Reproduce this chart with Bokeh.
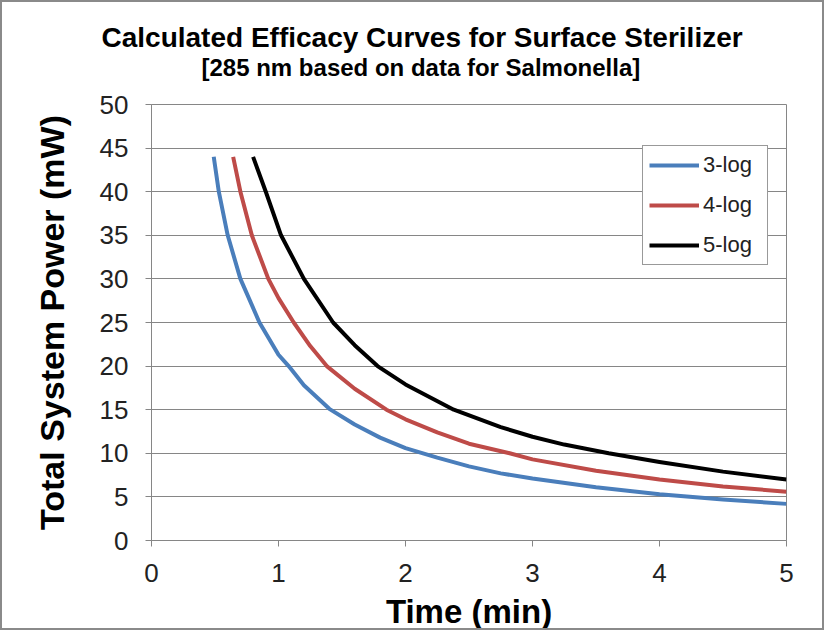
from bokeh.plotting import figure
from bokeh.models import Title, Legend, LegendItem, SingleIntervalTicker
from bokeh.embed import file_html
from bokeh.resources import INLINE

# ---- data ----
t_3log = [0.49, 0.53, 0.6, 0.7, 0.85, 1.0, 1.08, 1.2, 1.4, 1.6, 1.8, 2.0, 2.25, 2.5,
          2.75, 3.0, 3.5, 4.0, 4.5, 5.0]
p_3log = [44.0, 40.0, 35.0, 30.0, 25.0, 21.3, 20.0, 17.8, 15.1, 13.3, 11.8, 10.6, 9.5, 8.5,
          7.7, 7.1, 6.1, 5.3, 4.7, 4.2]

t_4log = [0.643, 0.7, 0.79, 0.92, 1.0, 1.12, 1.25, 1.38, 1.6, 1.85, 2.0, 2.25, 2.5, 2.82,
          3.0, 3.5, 4.0, 4.5, 5.0]
p_4log = [44.0, 40.0, 35.0, 30.0, 27.8, 25.0, 22.3, 20.0, 17.4, 15.0, 13.9, 12.4, 11.1, 10.0,
          9.3, 8.0, 7.0, 6.2, 5.6]

t_5log = [0.80, 0.9, 1.02, 1.2, 1.43, 1.6, 1.78, 2.0, 2.38, 2.75, 3.0, 3.25, 3.6, 4.0,
          4.5, 5.0]
p_5log = [44.0, 40.0, 35.0, 30.0, 25.0, 22.4, 20.0, 17.9, 15.0, 13.0, 11.9, 11.0, 10.0, 9.0,
          7.9, 7.0]

series_names = ["3-log", "4-log", "5-log"]
series_colors = ["#4A7EBB", "#BE4B48", "#000000"]

title_main = "Calculated Efficacy Curves for Surface Sterilizer"
title_sub = "[285 nm based on data for Salmonella]"
x_label = "Time (min)"
y_label = "Total System Power (mW)"

FONT = "Liberation Sans"

p = figure(width=824, height=630, output_backend="svg", toolbar_location=None,
           x_range=(0, 5), y_range=(0, 50), title=None)
p.min_border_left = 149
p.min_border_right = 40
p.min_border_top = 102
p.min_border_bottom = 91
p.background_fill_color = "white"
p.border_fill_color = "white"
p.outline_line_color = "#868686"
p.outline_line_width = 1

# titles
sub = Title(text=title_sub, align="left", offset=50, vertical_align="bottom",
            standoff=47, text_font=FONT, text_font_size="24px",
            text_font_style="bold", text_color="black")
main = Title(text=title_main, align="left", offset=-50, vertical_align="bottom",
             standoff=-49, text_font=FONT, text_font_size="28px",
             text_font_style="bold", text_color="black")
p.add_layout(sub, "above")
p.add_layout(main, "above")

# axes
for ax in (p.xaxis[0], p.yaxis[0]):
    ax.axis_line_color = "#868686"
    ax.major_tick_line_color = "#868686"
    ax.major_tick_out = 6
    ax.major_tick_in = 0
    ax.minor_tick_line_color = None
    ax.major_label_text_font = FONT
    ax.major_label_text_font_size = "26px"
    ax.major_label_text_color = "#222222"
    ax.axis_label_text_font = FONT
    ax.axis_label_text_font_size = "33px"
    ax.axis_label_text_font_style = "bold"
    ax.axis_label_text_color = "black"

p.yaxis.axis_label_text_font_size = "34px"
p.xaxis.ticker = SingleIntervalTicker(interval=1, num_minor_ticks=0)
p.yaxis.ticker = SingleIntervalTicker(interval=5, num_minor_ticks=0)
p.xaxis.axis_label = x_label
p.yaxis.axis_label = y_label
p.xaxis.major_label_standoff = 17
p.xaxis.axis_label_standoff = 8
p.yaxis.major_label_standoff = 17
p.yaxis.axis_label_standoff = 26

p.xgrid.grid_line_color = None
p.ygrid.grid_line_color = "#868686"
p.ygrid.grid_line_width = 1

items = []
for t, pw, name, col in zip([t_3log, t_4log, t_5log], [p_3log, p_4log, p_5log],
                            series_names, series_colors):
    r = p.line(t, pw, line_color=col, line_width=4, line_join="round", line_cap="butt")
    items.append(LegendItem(label=name, renderers=[r]))

legend = Legend(items=items, location=(491, 275))
legend.glyph_width = 50
legend.glyph_height = 20
legend.label_height = 20
legend.label_width = 58
legend.spacing = 14
legend.padding = 6
legend.margin = 0
legend.label_standoff = 4
legend.label_text_font = FONT
legend.label_text_font_size = "22px"
legend.label_text_color = "#222222"
legend.border_line_color = "#333333"
legend.border_line_width = 1
legend.background_fill_color = "white"
legend.background_fill_alpha = 1
p.add_layout(legend, "center")

p.styles = {"border": "2px solid #8a8a8a"}

open("out.html", "w").write(file_html(p, INLINE))
